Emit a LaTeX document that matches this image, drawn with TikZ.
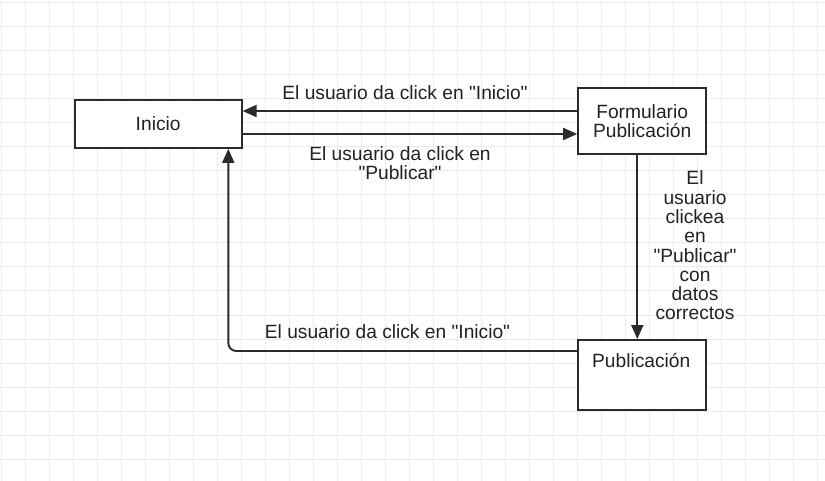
\documentclass[tikz,border=0pt]{standalone}
\usepackage{fontspec}
\setmainfont{Liberation Sans}
\usetikzlibrary{arrows.meta}
\definecolor{gridc}{HTML}{EBEBEB}
\definecolor{ink}{HTML}{2B2B2B}
\definecolor{txt}{HTML}{222222}
\newcommand{\q}{\textquotedbl}
\tikzset{
  box/.style={draw=ink, line width=1.9pt, fill=white, inner sep=0pt, anchor=north west, text=txt, align=center},
  arr/.style={draw=ink, line width=1.9pt, -{Triangle[length=14pt,width=12pt]}},
  lbl/.style={text=txt, inner sep=0pt, align=center},
}
\begin{document}
\begin{tikzpicture}[x=1pt,y=-1pt, font=\fontsize{19.2}{19.3}\selectfont]
\useasboundingbox (0,0) rectangle (825,481);
\fill[white] (0,0) rectangle (825,481);
% grid
\foreach \i in {0,...,34} {\draw[gridc, line width=1pt] (1.7+24*\i,0) -- (1.7+24*\i,481);}
\foreach \j in {0,...,20} {\draw[gridc, line width=1pt] (0,3+24*\j) -- (825,3+24*\j);}
% boxes
\node[box, minimum width=167pt, minimum height=48pt] (ini) at (73.7,99) {Inicio};
\node[box, minimum width=128pt, minimum height=66pt] (form) at (577.2,87) {Formulario\\Publicación};
\node[box, minimum width=128pt, minimum height=70pt] (pub) at (577.2,339) {};
\node[lbl] (pubt) at (641.2,361) {Publicación};
% helper coordinates
\coordinate (y1) at (0,111);
\coordinate (y2) at (0,134);
\coordinate (xv) at (637.3,0);
\coordinate (yb) at (0,351);
\coordinate (xb) at (228.3,0);
% connectors
\draw[arr] (form.west |- y1) -- (ini.east |- y1);
\draw[arr] (ini.east |- y2) -- (form.west |- y2);
\draw[arr] (form.south -| xv) -- (pub.north -| xv);
\draw[arr, rounded corners=8pt] (pub.west |- yb) -| (ini.south -| xb);
% labels
\node[lbl] (l1) at (405,93) {El usuario da click en \q Inicio\q};
\node[lbl] (l2) at (400,163) {El usuario da click en\\\q Publicar\q};
\node[lbl] (l3) at (695,245.5) {El\\usuario\\clickea\\en\\\q Publicar\q\\con\\datos\\correctos};
\node[lbl] (l4) at (387.5,331.5) {El usuario da click en \q Inicio\q};
\end{tikzpicture}
\end{document}
